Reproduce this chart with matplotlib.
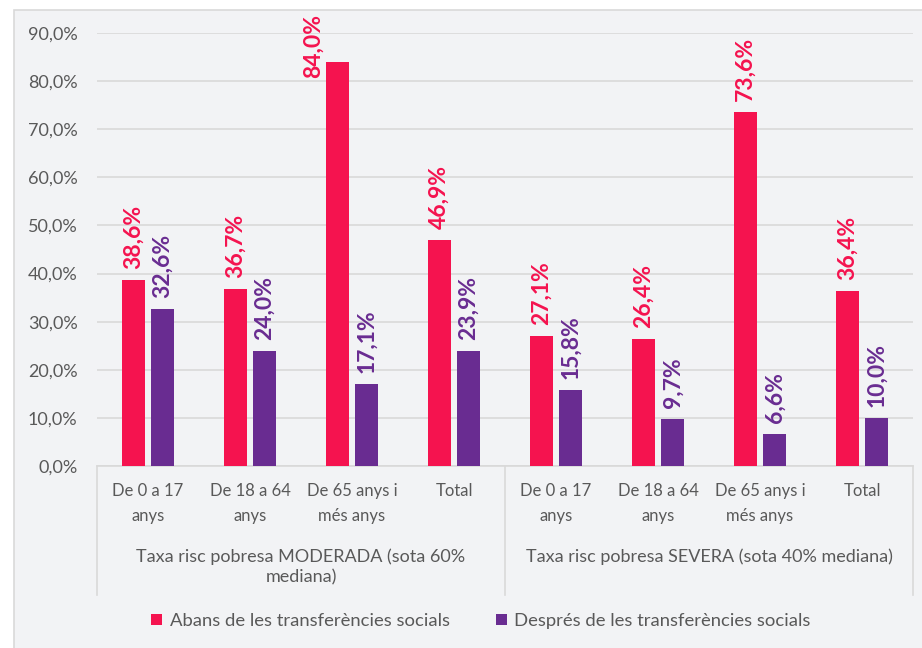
import matplotlib.pyplot as plt
from matplotlib.patches import Rectangle
from matplotlib.ticker import FuncFormatter

plt.rcParams['font.family'] = ['Lato', 'DejaVu Sans']

categories = ['De 0 a 17\nanys', 'De 18 a 64\nanys', 'De 65 anys i\nmés anys', 'Total',
              'De 0 a 17\nanys', 'De 18 a 64\nanys', 'De 65 anys i\nmés anys', 'Total']
groups = ['Taxa risc pobresa MODERADA (sota 60%\nmediana)',
          'Taxa risc pobresa SEVERA (sota 40% mediana)']
abans = [38.6, 36.7, 84.0, 46.9, 27.1, 26.4, 73.6, 36.4]
despres = [32.6, 24.0, 17.1, 23.9, 15.8, 9.7, 6.6, 10.0]
series_names = ['Abans de les transferències socials', 'Després de les transferències socials']

pink = '#F5134F'
purple = '#692C91'
grey_txt = '#595959'
grid_c = '#D9D9D9'
bg = '#F2F3F5'

W, H = 922, 648
fig = plt.figure(figsize=(W/100, H/100), dpi=100, facecolor='white')
# chart area background with its frame
fig.patches.append(Rectangle((14/W, -0.05), 1.0, (H-10)/H + 0.05, transform=fig.transFigure,
                             facecolor=bg, edgecolor=grid_c, lw=1.2, zorder=-10))

ax = fig.add_axes([97/W, (H-466)/H, 816/W, 433/H])
ax.set_facecolor(bg)

x = list(range(len(categories)))
bw = 0.225
off = 0.145
b1 = ax.bar([i - off for i in x], abans, bw, color=pink, label=series_names[0], zorder=3)
b2 = ax.bar([i + off for i in x], despres, bw, color=purple, label=series_names[1], zorder=3)

for rects, vals, c in [(b1, abans, pink), (b2, despres, purple)]:
    for r, v in zip(rects, vals):
        cx = r.get_x() + r.get_width()/2
        txt = f'{v:.1f}%'.replace('.', ',')
        if v > 80:
            # no room above the bar: label pushed to the left, top at chart edge
            ax.annotate(txt, (cx, 90), xytext=(-24, 19), textcoords='offset pixels',
                        rotation=90, ha='center', va='top', color=c, fontsize=16.5,
                        fontweight='bold', annotation_clip=False)
        else:
            ax.annotate(txt, (cx, v), xytext=(0, 11), textcoords='offset pixels',
                        rotation=90, ha='center', va='bottom', color=c, fontsize=16.5,
                        fontweight='bold', annotation_clip=False)

ax.set_ylim(0, 90)
ax.set_xlim(-0.5, 7.5)
ax.set_yticks(range(0, 91, 10))
ax.yaxis.set_major_formatter(FuncFormatter(lambda v, p: f'{v:.1f}%'.replace('.', ',')))
ax.tick_params(axis='y', length=0, pad=14, labelsize=13, labelcolor=grey_txt)
ax.set_xticks([])
ax.grid(axis='y', color=grid_c, lw=1.2, zorder=0)
for s in ['top', 'right', 'left']:
    ax.spines[s].set_visible(False)
ax.spines['bottom'].set_color(grid_c)
ax.spines['bottom'].set_linewidth(1.2)

trans = ax.get_xaxis_transform()
for i, lab in enumerate(categories):
    ax.text(i, -0.04, lab, transform=trans, ha='center', va='top', fontsize=12,
            color=grey_txt, linespacing=1.7)
for k, g in enumerate(groups):
    ax.text(1.5 + 4*k, -0.19, g, transform=trans, ha='center', va='top', fontsize=13,
            color=grey_txt, linespacing=1.35)
for xv in [-0.5, 3.5, 7.5]:
    ax.plot([xv, xv], [0, -0.298], transform=trans, color=grid_c, lw=1.2, clip_on=False)

fig.legend(handles=[b1, b2], loc='center', bbox_to_anchor=(481/W, 1 - 621/H), ncol=2,
           frameon=False, fontsize=13.3, labelcolor=grey_txt, handlelength=0.6,
           handleheight=0.6, handletextpad=0.4, columnspacing=2.5)

fig.savefig('out.png', dpi=100, facecolor=fig.get_facecolor())
